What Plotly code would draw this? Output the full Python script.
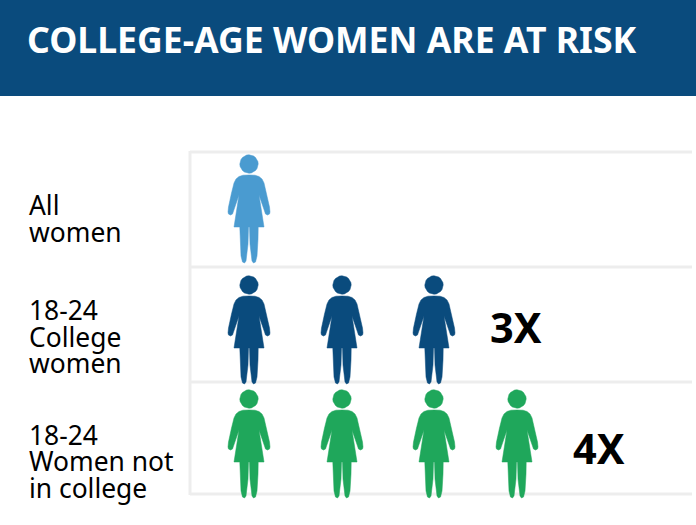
import plotly.graph_objects as go

# ---- data ----
title = "COLLEGE-AGE WOMEN ARE AT RISK"
row_labels = [["All", "women"], ["18-24", "College", "women"], ["18-24", "Women not", "in college"]]
row_counts = [1, 3, 4]
multipliers = ["", "3X", "4X"]
row_colors = ["#4a9bd0", "#0a4b7d", "#1fa75b"]

# layout helpers (pixel space of the 696x525 page)
W, H = 696, 525
slot_x = [249, 342, 434, 517]
row_head_y = [164, 285, 399]
label_y = [[205, 232], [310, 337, 363], [435, 461, 487.5]]
mult_x = [None, 515.5, 598.5]
mult_y = [None, 327, 448]
row_lines = [152, 267, 382, 494]

# pictogram glyph: right half of a figure relative to the head centre
half_dx = [0, 6, 10, 13, 15, 17.5, 20.5, 21, 20.5, 18.5, 16.5, 15.5, 10, 15, 9.2, 9, 8, 6.5, 4.5, 3, 1, 0.5]
half_dy = [11, 11.2, 12.5, 15, 19, 29, 43, 48, 50, 51, 50, 47, 31, 63, 63, 75, 92, 98, 99, 97, 80, 63]
head_dx = [0, 2.4, 4.6, 6.5, 8, 8.9, 9.2, 8.9, 8, 6.5, 4.6, 2.4, 0, -2.4, -4.6, -6.5, -8, -8.9, -9.2, -8.9, -8, -6.5, -4.6, -2.4, 0]
head_dy = [-9.2, -8.9, -8, -6.5, -4.6, -2.4, 0, 2.4, 4.6, 6.5, 8, 8.9, 9.2, 8.9, 8, 6.5, 4.6, 2.4, 0, -2.4, -4.6, -6.5, -8, -8.9, -9.2]

body_dx = half_dx + [-d for d in reversed(half_dx)]
body_dy = half_dy + list(reversed(half_dy))

fig = go.Figure()

for r, n in enumerate(row_counts):
    xs, ys = [], []
    for i in range(n):
        cx, cy = slot_x[i], row_head_y[r]
        xs += [cx + d for d in body_dx] + [None] + [cx + d for d in head_dx] + [None]
        ys += [cy + d for d in body_dy] + [None] + [cy + d for d in head_dy] + [None]
    fig.add_trace(go.Scatter(x=xs, y=ys, mode="lines", fill="toself",
                             fillcolor=row_colors[r], line=dict(color=row_colors[r], width=0.5),
                             hoverinfo="skip", showlegend=False))

shapes = [dict(type="rect", xref="x", yref="y", x0=0, x1=W, y0=0, y1=96,
               fillcolor="#0a4b7d", line_width=0, layer="below")]
shapes.append(dict(type="line", xref="x", yref="y", x0=190, x1=190, y0=151, y1=495,
                   line=dict(color="#ededed", width=3), layer="below"))
for y in row_lines:
    shapes.append(dict(type="line", xref="x", yref="y", x0=190, x1=692, y0=y, y1=y,
                       line=dict(color="#ededed", width=3), layer="below"))

FONT = "Noto Sans"
ann = [dict(x=25, y=39, xref="x", yref="y", text="<b>%s</b>" % title, showarrow=False,
            xanchor="left", yanchor="middle", font=dict(family=FONT, size=35.6, color="white"))]
for r, lines in enumerate(row_labels):
    for line, ly in zip(lines, label_y[r]):
        ann.append(dict(x=27, y=ly, xref="x", yref="y", text=line, showarrow=False,
                        xanchor="left", yanchor="middle", align="left",
                        font=dict(family=FONT, size=26.4, color="#000")))
    if multipliers[r]:
        ann.append(dict(x=mult_x[r], y=mult_y[r], xref="x", yref="y",
                        text="<b>%s</b>" % multipliers[r], showarrow=False,
                        xanchor="center", yanchor="middle",
                        font=dict(family=FONT, size=41.5, color="#000")))

fig.update_layout(
    width=W, height=H, margin=dict(l=0, r=0, t=0, b=0),
    paper_bgcolor="white", plot_bgcolor="white",
    xaxis=dict(range=[0, W], visible=False, fixedrange=True),
    yaxis=dict(range=[H, 0], visible=False, fixedrange=True),
    shapes=shapes, annotations=ann, showlegend=False,
)
fig.write_html("out.html", config=dict(displayModeBar=False),
               post_script="document.body.style.margin='0';document.body.style.overflow='hidden';")
